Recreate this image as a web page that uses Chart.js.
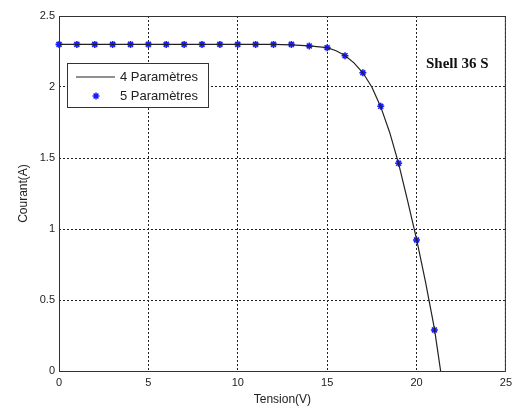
<!DOCTYPE html>
<html>
<head>
<meta charset="utf-8">
<script src="https://cdn.jsdelivr.net/npm/chart.js@4.4.0/dist/chart.umd.min.js"></script>
<style>
body { margin: 0; background: #fff; }
canvas { display: block; }
</style>
</head>
<body>
<canvas id="chart" width="517" height="408"></canvas>
<script>
// axes
const x_ticks = [0, 5, 10, 15, 20, 25];
const y_ticks = [0, 0.5, 1, 1.5, 2, 2.5];

// 4 parameter model (solid curve)
const model4_v = [0, 1, 2, 3, 4, 5, 6, 7, 8, 9, 10, 11, 12, 13, 14, 15, 15.5, 16, 16.5, 17, 17.5, 18, 18.5, 19, 19.5, 20, 20.5, 21, 21.35];
const model4_i = [2.3, 2.3, 2.3, 2.3, 2.3, 2.3, 2.3, 2.3, 2.3, 2.3, 2.3, 2.3, 2.3, 2.297, 2.29, 2.277, 2.255, 2.222, 2.17, 2.1, 2.0, 1.86, 1.68, 1.46, 1.2, 0.93, 0.63, 0.3, 0];

// 5 parameter model (blue stars)
const model5_v = [0, 1, 2, 3, 4, 5, 6, 7, 8, 9, 10, 11, 12, 13, 14, 15, 16, 17, 18, 19, 20, 21];
const model5_i = [2.3, 2.3, 2.3, 2.3, 2.3, 2.3, 2.3, 2.3, 2.3, 2.3, 2.3, 2.3, 2.3, 2.3, 2.289, 2.277, 2.22, 2.1, 1.864, 1.463, 0.923, 0.289];

const labels = ['4 Paramètres', '5 Paramètres'];

Chart.defaults.font.family = '"Liberation Sans", Arial, sans-serif';
Chart.defaults.color = '#222';

function toPoints(xs, ys) {
    return xs.map((x, i) => ({x: x, y: ys[i]}));
}

// draw a matlab style '*' marker
function drawStar(ctx, x, y, r) {
    ctx.beginPath();
    ctx.moveTo(x - r, y); ctx.lineTo(x + r, y);
    ctx.moveTo(x, y - r); ctx.lineTo(x, y + r);
    let d = r * 0.7;
    ctx.moveTo(x - d, y - d); ctx.lineTo(x + d, y + d);
    ctx.moveTo(x - d, y + d); ctx.lineTo(x + d, y - d);
    ctx.stroke();
}

const framePlugin = {
    id: 'frame',
    afterDraw(chart) {
        let ctx = chart.ctx;
        let a = chart.chartArea;
        ctx.save();
        ctx.setLineDash([]);
        ctx.strokeStyle = '#333';
        ctx.lineWidth = 1;
        ctx.strokeRect(a.left + 0.5, a.top + 0.5, a.right - a.left - 1, a.bottom - a.top);

        // legend box
        let ds = chart.data.datasets;
        ctx.fillStyle = '#fff';
        ctx.fillRect(67, 63, 141, 44);
        ctx.strokeRect(67.5, 63.5, 141, 44);
        ctx.font = '13px "Liberation Sans", Arial, sans-serif';
        ctx.textBaseline = 'middle';
        ctx.fillStyle = '#222';
        ctx.strokeStyle = ds[0].borderColor;
        ctx.lineWidth = 1.2;
        ctx.beginPath();
        ctx.moveTo(76, 77); ctx.lineTo(115, 77);
        ctx.stroke();
        ctx.fillText(ds[0].label, 120, 77);
        ctx.strokeStyle = ds[1].borderColor;
        ctx.lineWidth = 1.5;
        drawStar(ctx, 96, 96, 3.5);
        ctx.fillText(ds[1].label, 120, 96);

        // annotation
        ctx.font = 'bold 15px "Liberation Serif", "Times New Roman", serif';
        ctx.fillStyle = '#111';
        ctx.fillText('Shell 36 S', 426, 64);
        ctx.restore();
    }
};

let ctx = document.getElementById('chart');
let chart = new Chart(ctx, {
    type: 'scatter',
    data: {
        datasets: [{
            label: labels[0],
            data: toPoints(model4_v, model4_i),
            showLine: true,
            borderColor: '#222',
            borderWidth: 1.2,
            pointRadius: 0,
            tension: 0
        }, {
            label: labels[1],
            data: toPoints(model5_v, model5_i),
            showLine: false,
            pointStyle: 'star',
            pointRadius: 3.5,
            borderColor: '#1a1aff',
            backgroundColor: '#1a1aff',
            pointBorderWidth: 1.6,
            clip: false
        }]
    },
    options: {
        responsive: false,
        animation: false,
        layout: {padding: {top: 16, right: 10, left: 0, bottom: 0}},
        plugins: {
            legend: {display: false},
            tooltip: {enabled: false}
        },
        scales: {
            x: {
                type: 'linear',
                min: 0,
                max: 25,
                afterBuildTicks: s => { s.ticks = x_ticks.map(v => ({value: v})); },
                afterFit: s => { s.height = 37; },
                ticks: {padding: 5, font: {size: 11}, maxRotation: 0, callback: v => String(v)},
                grid: {color: '#222', lineWidth: 1, drawTicks: false},
                border: {display: false, dash: [2, 2]},
                title: {display: true, text: 'Tension(V)', font: {size: 12}, padding: {top: 0, bottom: 1}}
            },
            y: {
                type: 'linear',
                min: 0,
                max: 2.5,
                afterBuildTicks: s => { s.ticks = y_ticks.map(v => ({value: v})); },
                afterFit: s => { s.width = 59; },
                ticks: {padding: 4, font: {size: 11}, callback: v => String(v)},
                grid: {color: '#222', lineWidth: 1, drawTicks: false},
                border: {display: false, dash: [2, 2]},
                title: {display: true, text: 'Courant(A)', font: {size: 12}, padding: {top: 16, bottom: 0}}
            }
        }
    },
    plugins: [framePlugin]
});
</script>
</body>
</html>
